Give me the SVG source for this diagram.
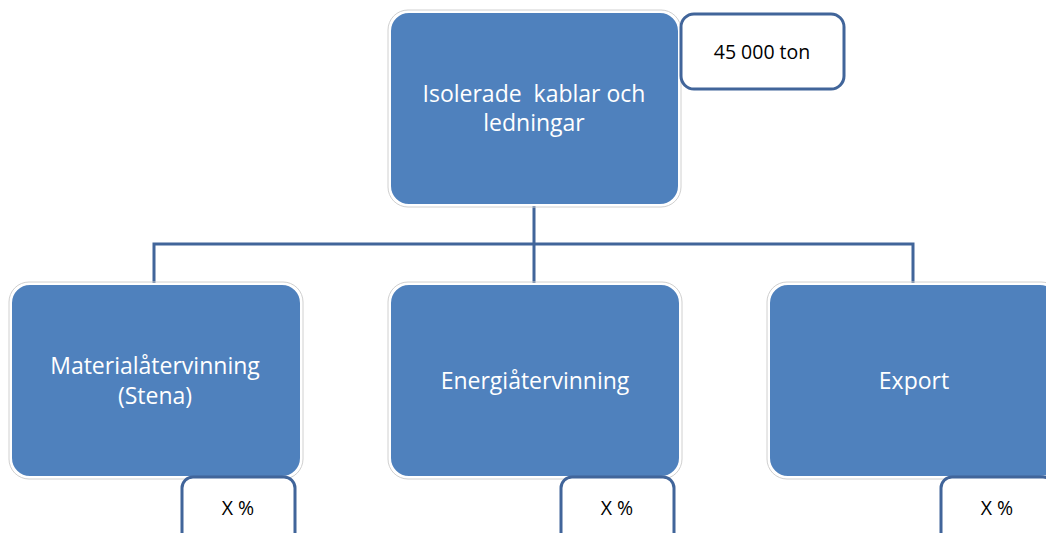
<svg xmlns="http://www.w3.org/2000/svg" width="1046" height="533" viewBox="0 0 1046 533">
  <style>
    .node { fill: #4f81bd; stroke: #ffffff; stroke-width: 2; }
    .halo { fill: none; stroke: #d0d0d0; stroke-width: 1; }
    .tag { fill: #ffffff; stroke: #41659a; stroke-width: 3; }
    .label { font-family: "Open Sans", "Liberation Sans", sans-serif; font-size: 23px; fill: #ffffff; text-anchor: middle; }
    .tagtext { font-family: "Open Sans", "Liberation Sans", sans-serif; font-size: 19.5px; fill: #000000; text-anchor: middle; }
    .conn { fill: none; stroke: #41659a; stroke-width: 3; }
  </style>

  <g id="connectors">
    <path class="conn" d="M534 205 V244 M154 285 V244 H913 V285 M534 244 V285"/>
  </g>

  <g id="root">
    <rect class="halo" x="388" y="10" width="293" height="197" rx="20"/>
    <rect class="node" x="390" y="12" width="289" height="193" rx="19"/>
    <text class="label" x="534" y="102" xml:space="preserve">Isolerade  kablar och</text>
    <text class="label" x="534" y="131">ledningar</text>
  </g>

  <g id="total">
    <rect class="tag" x="681" y="14" width="163" height="75" rx="13"/>
    <text class="tagtext" x="762" y="59">45 000 ton</text>
  </g>

  <g id="material">
    <rect class="halo" x="9" y="282" width="294" height="197" rx="20"/>
    <rect class="node" x="11" y="284" width="290" height="193" rx="19"/>
    <text class="label" x="155" y="374">Materialåtervinning</text>
    <text class="label" x="155" y="404">(Stena)</text>
  </g>

  <g id="material-share">
    <rect class="tag" x="182" y="477" width="113" height="70" rx="11"/>
    <text class="tagtext" x="238" y="515">X %</text>
  </g>

  <g id="energy">
    <rect class="halo" x="388" y="282" width="294" height="197" rx="20"/>
    <rect class="node" x="390" y="284" width="290" height="193" rx="19"/>
    <text class="label" x="535" y="389">Energiåtervinning</text>
  </g>

  <g id="energy-share">
    <rect class="tag" x="561" y="477" width="113" height="70" rx="11"/>
    <text class="tagtext" x="617" y="515">X %</text>
  </g>

  <g id="export">
    <rect class="halo" x="767" y="282" width="294" height="197" rx="20"/>
    <rect class="node" x="769" y="284" width="290" height="193" rx="19"/>
    <text class="label" x="914" y="389">Export</text>
  </g>

  <g id="export-share">
    <rect class="tag" x="941" y="477" width="113" height="70" rx="11"/>
    <text class="tagtext" x="997" y="515">X %</text>
  </g>
</svg>
